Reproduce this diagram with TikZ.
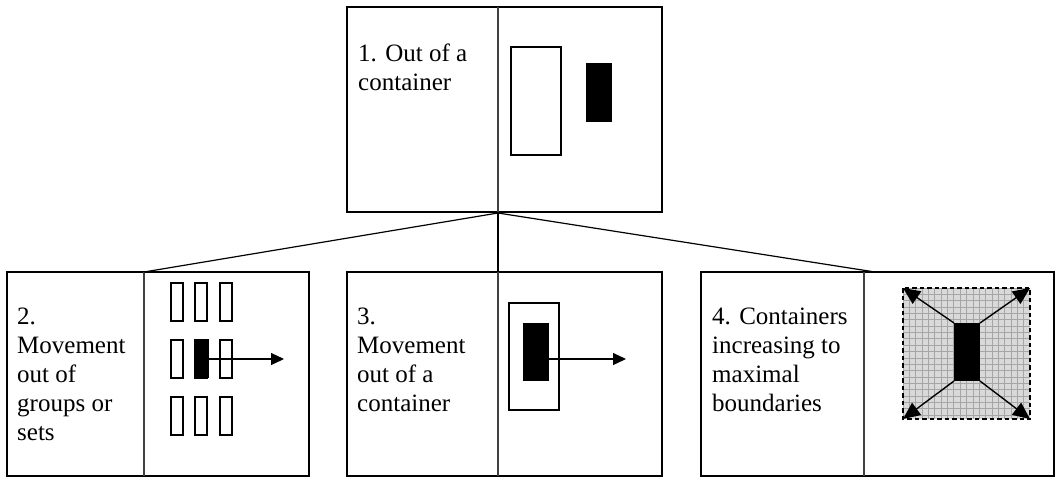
\documentclass[tikz,border=0pt]{standalone}
\usepackage{fontspec}
\setmainfont{Liberation Serif}
\usetikzlibrary{arrows.meta}
\begin{document}
\begin{tikzpicture}[x=1pt,y=-1pt,
  panel/.style={draw=black,line width=1.1pt,rectangle,inner sep=0pt},
  divider/.style={draw=black!75,line width=1.1pt},
  conn/.style={draw=black,line width=1.2pt},
  label/.style={anchor=base west,inner sep=0pt,font=\fontsize{25}{29}\selectfont},
  hollow/.style={draw=black,line width=1.2pt,fill=white},
  solid/.style={fill=black},
  movearrow/.style={draw=black,line width=1.2pt,-{Triangle[length=13pt,width=12pt]}},
  growarrow/.style={draw=black,line width=1.4pt,-{Triangle[length=17pt,width=15pt]}}
]
\useasboundingbox (0,0) rectangle (1057,488);
% panels
\node[panel,minimum width=315pt,minimum height=205pt] (p1) at (504.5,109.5) {};
\node[panel,minimum width=302pt,minimum height=204pt] (p2) at (158,374) {};
\node[panel,minimum width=315pt,minimum height=204pt] (p3) at (504.5,374) {};
\node[panel,minimum width=353pt,minimum height=204pt] (p4) at (877.5,374) {};
% dividers
\coordinate (d1t) at (498,7);   \coordinate (d1b) at (498,212);
\coordinate (d2t) at (144,272); \coordinate (d2b) at (144,476);
\coordinate (d3t) at (498,272); \coordinate (d3b) at (498,476);
\coordinate (d4t) at (864,272); \coordinate (d4b) at (864,476);
\draw[divider] (d1t) -- (d1b);
\draw[divider] (d2t) -- (d2b);
\draw[divider] (d3t) -- (d3b);
\draw[divider] (d4t) -- (d4b);
% connectors
\coordinate (hub) at (498,213);
\coordinate (c4) at (875,272);
\draw[conn] (hub) -- (d2t);
\draw[conn] (hub) -- (d3t);
\draw[conn] (hub) -- (c4);
% labels
\node[label] (t1) at (358,61) {\begin{tabular}[t]{@{}l@{}}1. Out of a\\container\end{tabular}};
\node[label] (t2) at (17,324) {\begin{tabular}[t]{@{}l@{}}2.\\Movement\\out of\\groups or\\sets\end{tabular}};
\node[label] (t3) at (357,324) {\begin{tabular}[t]{@{}l@{}}3.\\Movement\\out of a\\container\end{tabular}};
\node[label] (t4) at (712,324) {\begin{tabular}[t]{@{}l@{}}4. Containers\\increasing to\\maximal\\boundaries\end{tabular}};
% panel 1 drawing
\draw[hollow] (511,47) rectangle (561,155);
\fill[solid] (586,63) rectangle (612,122);
% panel 2 drawing
\foreach \x in {171,195,220}{
  \foreach \y in {283,340,397}{
    \draw[hollow] (\x,\y) rectangle ++(12,38);
  }
}
\fill[solid] (195,339) rectangle (209,378);
\coordinate (a2s) at (209,359); \coordinate (a2e) at (284,359);
\draw[movearrow] (a2s) -- (a2e);
% panel 3 drawing
\draw[hollow] (509,303) rectangle (559,410);
\fill[solid] (523,323) rectangle (549,381);
\coordinate (a3s) at (549,359); \coordinate (a3e) at (626,359);
\draw[movearrow] (a3s) -- (a3e);
% panel 4 drawing
\fill[black!15] (903,288) rectangle (1030,419);
\begin{scope}
\clip (903,288) rectangle (1030,419);
\foreach \i in {0,...,21}{
  \draw[black!35,line width=0.7pt] (903+\i*6.35,288) -- (903+\i*6.35,419);
  \draw[black!35,line width=0.7pt] (903,288+\i*6.35) -- (1030,288+\i*6.35);
}
\end{scope}
\draw[black,line width=1.5pt,dash pattern=on 4.5pt off 3pt] (903,288) rectangle (1030,419);
\fill[solid] (954,323) rectangle (980,381);
\coordinate (g1) at (954,323); \coordinate (G1) at (903,288);
\coordinate (g2) at (980,323); \coordinate (G2) at (1030,288);
\coordinate (g3) at (954,381); \coordinate (G3) at (903,419);
\coordinate (g4) at (980,381); \coordinate (G4) at (1030,419);
\draw[growarrow] (g1) -- (G1);
\draw[growarrow] (g2) -- (G2);
\draw[growarrow] (g3) -- (G3);
\draw[growarrow] (g4) -- (G4);
\end{tikzpicture}
\end{document}
